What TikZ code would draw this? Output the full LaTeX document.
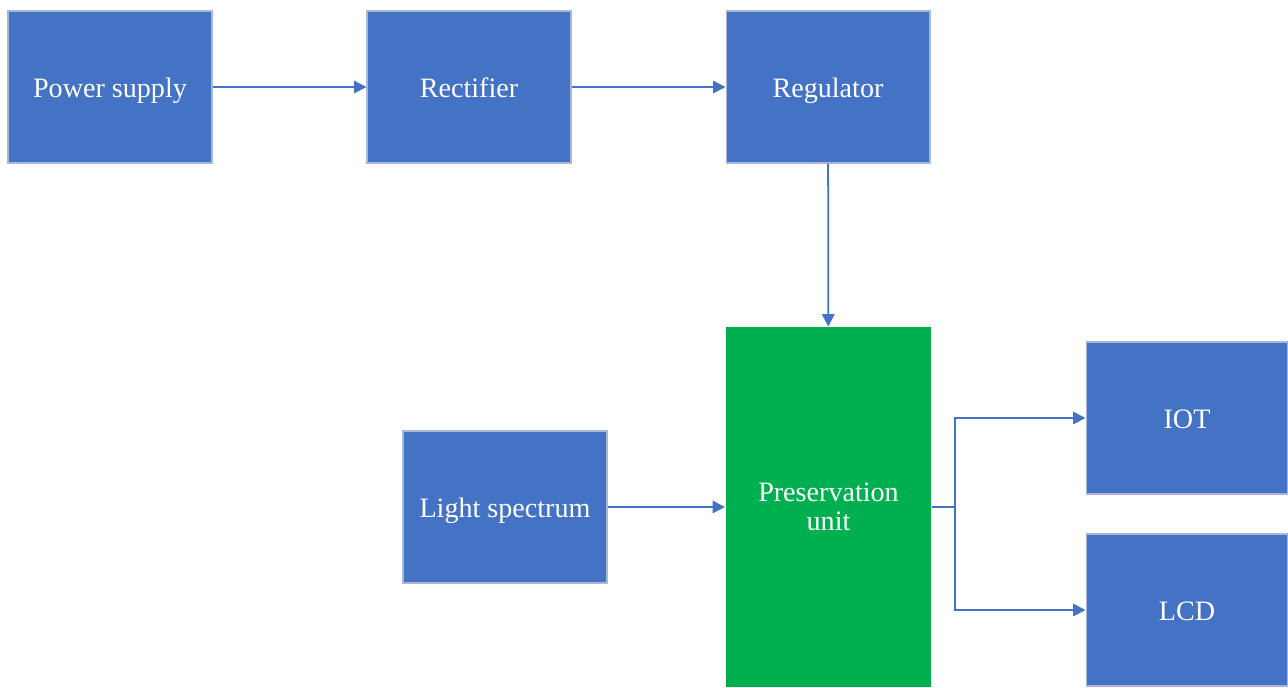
\documentclass[tikz,border=0pt]{standalone}
\usepackage{fontspec}
\setmainfont{Liberation Serif}
\usetikzlibrary{arrows.meta}

\definecolor{boxblue}{HTML}{4472C4}
\definecolor{boxgreen}{HTML}{00B050}
\definecolor{boxedge}{HTML}{A9B8D6}

\begin{document}
\begin{tikzpicture}[x=0.02cm, y=-0.02cm,
        >={Triangle[length=7pt, width=7pt]},
        block/.style={draw=boxedge, line width=0.6pt, fill=boxblue, text=white,
            minimum width=4.08cm, minimum height=3.04cm, inner sep=0pt,
            text height=13.5pt, text depth=2pt,
            align=center, font=\fontsize{16}{16.5}\selectfont},
        link/.style={->, draw=boxblue, line width=1pt}]
        % Frame
        \useasboundingbox (0,0) rectangle (1288,687);

        % Supply chain
        \node[block] (supply) at (110,87) {Power supply};
        \node[block] (rectifier) at (469,87) {Rectifier};
        \node[block] (regulator) at (828,87) {Regulator};

        % Main unit
        \node[block, draw=none, fill=boxgreen, minimum width=4.12cm, minimum height=7.2cm,
            text height=, text depth=] (unit) at (828.5,507) {Preservation\\unit};
        \node[block] (light) at (505,507) {Light spectrum};

        % Outputs
        \node[block, minimum width=4.04cm] (iot) at (1187,418) {IOT};
        \node[block, minimum width=4.04cm] (lcd) at (1187,610) {LCD};
        \coordinate (split) at (955,507);

        % Links
        \draw[link] (supply) -- (rectifier);
        \draw[link] (rectifier) -- (regulator);
        \draw[link] (regulator) -- (unit);
        \draw[link] (light) -- (unit);
        \draw[link] (unit.east) -- (split) |- (iot.west);
        \draw[link] (split) |- (lcd.west);
    \end{tikzpicture}
\end{document}
